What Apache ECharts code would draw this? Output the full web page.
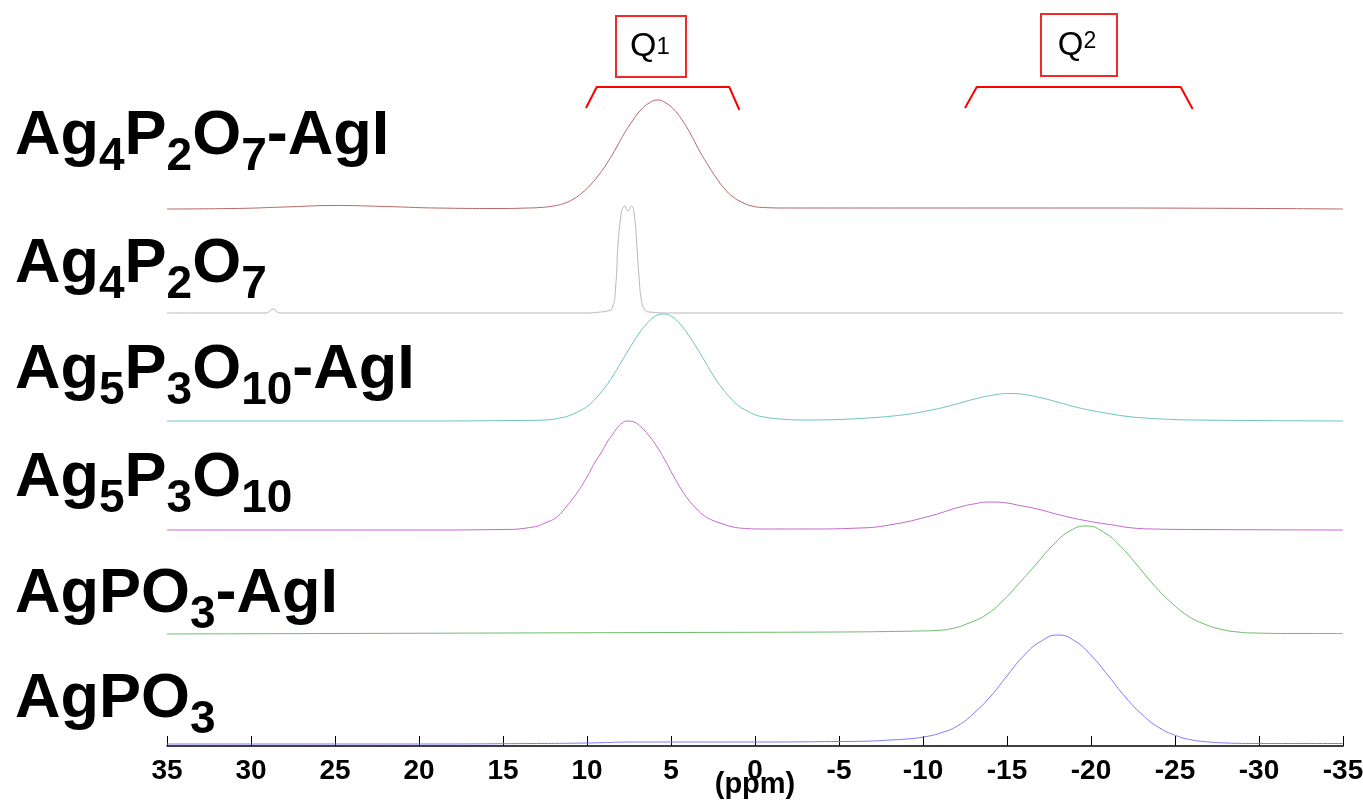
<!DOCTYPE html>
<html>
<head>
<meta charset="utf-8">
<script src="https://cdn.jsdelivr.net/npm/echarts@6/dist/echarts.min.js"></script>
<style>
  html, body { margin: 0; padding: 0; background: #fff; }
  #main { width: 1363px; height: 800px; }
</style>
</head>
<body>
<div id="main"></div>
<script>
// 31P spectra, [ppm, intensity above the trace's own baseline]
const ag4p2o7AgI = [[35,0],[31,0.5],[28,2],[25,3.5],[22,2.5],[19,1],[15,0.5],[13.5,1],[12.8,1.5],[12,3],[11.3,6],[10.8,10],[10.3,16],[9.8,24],[9.3,34],[8.8,46],[8.3,60],[7.8,75],[7.3,88],[6.8,99],[6.3,106],[5.8,109],[5.3,106],[4.8,99],[4.3,88],[3.8,74],[3.3,58],[2.8,44],[2.3,31],[1.8,20],[1.3,12],[0.8,7],[0.3,3.5],[-0.5,1.5],[-2,1],[-10,1],[-20,1],[-35,0]];
const ag4p2o7 = [[35,0],[29.1,0],[28.7,4],[28.3,0],[15,0],[10,0],[9.2,1],[8.8,2],[8.5,5],[8.3,25],[8.15,70],[8.0,95],[7.9,104],[7.75,107],[7.55,102],[7.35,107],[7.2,100],[7.05,72],[6.9,35],[6.75,12],[6.55,3],[6.3,1],[5,0],[-35,0]];
const ag5p3o10AgI = [[35,0],[20,0],[14,0.5],[12.5,1],[11.46,3.5],[10.96,6],[10.46,10],[9.96,15],[9.46,23],[8.96,33],[8.46,45],[7.96,59],[7.46,73],[6.96,86],[6.46,97],[5.96,104.5],[5.46,107],[4.96,104.5],[4.46,97],[3.96,86],[3.46,73],[2.96,59],[2.46,45],[1.96,33],[1.46,23],[0.96,15],[0.46,10],[-0.04,6],[-0.54,4],[-1.5,2],[-3,1],[-5,1.5],[-6.2,2.5],[-7.2,3.5],[-8.2,5],[-9.2,7],[-10.2,10],[-11.2,13.5],[-12.2,18],[-13.2,22.5],[-14.2,26],[-15.2,27.5],[-16.2,26],[-17.2,22.5],[-18.2,18],[-19.2,13.5],[-20.2,10],[-21.2,7],[-22.2,4.5],[-23.2,3],[-24.2,2],[-26,1],[-35,0]];
const ag5p3o10 = [[35,0],[20,0],[15,0.5],[13.2,3],[12.5,7],[11.8,13],[11.2,24],[10.6,37],[10.0,53],[9.52,68],[9.2,76],[8.83,87],[8.5,95],[8.2,102],[7.9,107],[7.6,109],[7.3,108.5],[7.0,106],[6.6,100],[6.2,92],[5.75,81],[5.3,68],[4.85,54],[4.4,41],[3.95,30],[3.47,21],[3.0,14],[2.5,9.5],[1.9,6],[1.3,3],[0.5,1.5],[-0.5,1],[-3,1],[-6.25,2],[-8,5],[-10.2,13],[-12.2,23],[-13,26],[-14,28],[-15,27],[-15.6,25],[-16.8,21],[-18.15,15],[-19.8,9],[-21.3,5],[-22.5,2],[-23.7,1],[-26,0.5],[-35,0]];
const agpo3AgI = [[35,0],[25,0.5],[15,1],[5,1.5],[-5,2],[-8,2.5],[-9.74,3],[-10.74,3.5],[-11.74,5.5],[-12.74,11],[-13.74,19],[-14.74,33],[-15.74,51],[-16.74,70],[-17.74,89],[-18.74,103],[-19.74,108],[-20.74,102],[-21.74,88],[-22.74,69],[-23.74,49],[-24.74,32],[-25.74,18.5],[-26.74,10],[-27.74,4.7],[-28.74,2],[-29.74,1],[-32,0.5],[-35,0.5]];
const agpo3 = [[35,0],[20,0],[13,0.5],[10,1],[7,2],[0,2],[-5,2.5],[-7,3],[-8.04,4],[-9.04,5],[-10.04,7],[-11.04,11],[-12.04,18],[-13.04,31],[-14.04,48],[-15.04,69],[-16.04,89],[-17.04,103],[-18.04,109],[-19.04,103],[-20.04,88],[-21.04,68],[-22.04,47],[-23.04,29.5],[-24.04,16.5],[-25.04,8.5],[-26.04,4],[-27.04,2],[-28.04,1],[-30,0.5],[-35,0.5]];

const spectra = [ag4p2o7AgI, ag4p2o7, ag5p3o10AgI, ag5p3o10, agpo3AgI, agpo3];
// vertical offset of each trace
const offsets = [537, 433, 325, 216, 112, 2];
// sample names, rich text: {m|} normal, {s|} subscript
const sampleNames = [
  '{m|Ag}{s|4}{m|P}{s|2}{m|O}{s|7}{m|-AgI}',
  '{m|Ag}{s|4}{m|P}{s|2}{m|O}{s|7}',
  '{m|Ag}{s|5}{m|P}{s|3}{m|O}{s|10}{m|-AgI}',
  '{m|Ag}{s|5}{m|P}{s|3}{m|O}{s|10}',
  '{m|AgPO}{s|3}{m|-AgI}',
  '{m|AgPO}{s|3}'
];
// Q1 / Q2 region brackets [ppm, y]
const q1Bracket = [[10.06, 638], [9.42, 659], [1.53, 659], [0.93, 636]];
const q2Bracket = [[-12.5, 638], [-13.2, 659], [-25.34, 659], [-26.05, 637]];
const xTicks = { min: -35, max: 35, step: 5 };

const colors = ['#b86666', '#b8b8b8', '#6cc2c2', '#c468cc', '#6cbc6c', '#7a7aff'];
const labelBaselines = [157, 285, 391, 499, 615, 720];

const chart = echarts.init(document.getElementById('main'));

const series = spectra.map((s, i) => ({
  type: 'line',
  data: s.map(p => [p[0], p[1] + offsets[i]]),
  showSymbol: false,
  smooth: 0.5,
  silent: true,
  lineStyle: { color: colors[i], width: 1 }
}));

[q1Bracket, q2Bracket].forEach(b => {
  series.push({
    type: 'line',
    data: b,
    showSymbol: false,
    silent: true,
    lineStyle: { color: '#ff0000', width: 2 }
  });
});

const font = '"Liberation Sans", Arial, sans-serif';

const graphic = sampleNames.map((t, i) => ({
  type: 'text',
  left: 15,
  top: labelBaselines[i] - 52,
  silent: true,
  style: {
    text: t,
    rich: {
      m: { fontSize: 63, fontWeight: 'bold', fontFamily: font, lineHeight: 70, verticalAlign: 'top', fill: '#000' },
      s: { fontSize: 46, fontWeight: 'bold', fontFamily: font, lineHeight: 75, verticalAlign: 'bottom', fill: '#000' }
    }
  }
}));

// boxes around Q labels
graphic.push(
  { type: 'rect', shape: { x: 616, y: 16, width: 70, height: 61 }, style: { fill: 'none', stroke: '#f02a2a', lineWidth: 2 }, silent: true },
  { type: 'rect', shape: { x: 1041, y: 14, width: 76, height: 62 }, style: { fill: 'none', stroke: '#f02a2a', lineWidth: 2 }, silent: true },
  {
    type: 'text', x: 650, y: 47, silent: true,
    style: {
      text: '{q|Q}{p|1}', align: 'center', verticalAlign: 'middle',
      rich: {
        q: { fontSize: 34, fontFamily: font, fill: '#000' },
        p: { fontSize: 24, fontFamily: font, fill: '#000' }
      }
    }
  },
  {
    type: 'text', x: 1077, y: 46.5, silent: true,
    style: {
      text: '{q|Q}{p|2}', align: 'center', verticalAlign: 'middle',
      rich: {
        q: { fontSize: 33, fontFamily: font, fill: '#000', lineHeight: 32, verticalAlign: 'bottom' },
        p: { fontSize: 23, fontFamily: font, fill: '#000', lineHeight: 32, verticalAlign: 'top' }
      }
    }
  }
);

chart.setOption({
  animation: false,
  backgroundColor: '#fff',
  grid: { left: 167, right: 20, top: 46, bottom: 54, outerBoundsMode: 'none' },
  xAxis: {
    type: 'value',
    inverse: true,
    min: xTicks.min,
    max: xTicks.max,
    interval: xTicks.step,
    name: '(ppm)',
    nameLocation: 'middle',
    nameGap: 24,
    nameMoveOverlap: false,
    nameTextStyle: { fontSize: 29, fontWeight: 'bold', fontFamily: font, color: '#000' },
    axisLine: { lineStyle: { color: '#000', width: 1.5 } },
    axisTick: { inside: true, length: 10, lineStyle: { color: '#000' } },
    axisLabel: { fontSize: 28, fontWeight: 'bold', fontFamily: font, color: '#000', margin: 11, showMinLabel: true, showMaxLabel: true },
    splitLine: { show: false }
  },
  yAxis: {
    type: 'value',
    min: 0,
    max: 700,
    show: false
  },
  series: series,
  graphic: graphic
});
</script>
</body>
</html>
